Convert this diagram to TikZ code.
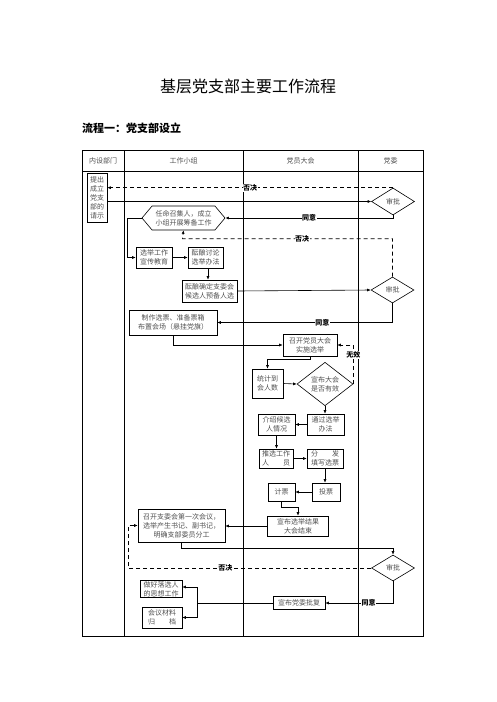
\documentclass[tikz,border=0pt]{standalone}
\usepackage{fontspec}
\setmainfont{Noto Sans CJK SC}
\usetikzlibrary{arrows.meta,positioning,shapes.geometric,shapes.symbols}
\usepackage{xcolor}
\definecolor{TextGray}{RGB}{80,80,80}
\newcommand{\boxfont}{\fontsize{7}{9}\selectfont}
\tikzset{
  flowbox/.style={draw=black,line width=0.6pt,inner sep=1pt,align=center,
    font=\boxfont,text=TextGray},
  hexbox/.style={flowbox,signal,signal to=west and east,signal pointer angle=100,
    inner sep=0pt},
  checkbox/.style={draw=black,line width=0.6pt,diamond,inner sep=0pt,align=center,
    font=\boxfont,text=TextGray},
  flowarrow/.style={-{Latex[length=3.5pt,width=3pt]},line width=0.6pt,draw=black},
  flowline/.style={line width=0.6pt,draw=black},
  dasharrow/.style={flowarrow,dash pattern=on 4pt off 3pt},
  decision/.style={font=\fontsize{7}{8}\selectfont\bfseries,fill=white,inner sep=0.6pt},
  lanehead/.style={font=\boxfont,text=TextGray},
  laneline/.style={line width=0.9pt,draw=black},
}
\begin{document}
\begin{tikzpicture}[x=1pt,y=-1pt]
  \useasboundingbox (0,0) rectangle (496,702);
  \node[font=\fontsize{16}{18}\selectfont] (title) at (248,86) {基层党支部主要工作流程};
  \node[font=\fontsize{11}{13}\selectfont\bfseries,anchor=west,inner sep=0pt] (subtitle) at (82,128) {流程一：党支部设立};

  \draw[laneline] (82,150) rectangle (423,636);
  \draw[laneline] (82,171) -- (423,171);
  \foreach \lx in {124,243,358}
    \draw[laneline] (\lx,150) -- (\lx,636);
  \node[lanehead] (deptHead) at (103,160.5) {内设部门};
  \node[lanehead] (groupHead) at (183.5,160.5) {工作小组};
  \node[lanehead] (meetingHead) at (300.5,160.5) {党员大会};
  \node[lanehead] (partyHead) at (390.5,160.5) {党委};

  \node[flowbox,minimum width=20pt,minimum height=49pt,text width=16pt] (request) at (97,197.5)
    {提出\\成立\\党支\\部的\\请示};
  \node[checkbox,minimum width=43pt,minimum height=27pt] (approveA) at (393,201.5) {审批};
  \node[hexbox,minimum width=83pt,minimum height=24pt] (setup) at (183.5,218)
    {任命召集人，成立\\小组开展筹备工作};
  \node[flowbox,minimum width=36pt,minimum height=21pt] (publicity) at (154,257.5)
    {选举工作\\宣传教育};
  \node[flowbox,minimum width=35pt,minimum height=21pt] (discuss) at (205.5,257.5)
    {酝酿讨论\\选举办法};
  \node[flowbox,minimum width=55pt,minimum height=22pt] (candidate) at (209.5,291)
    {酝酿确定支委会\\候选人预备人选};
  \node[checkbox,minimum width=43pt,minimum height=26pt] (approveB) at (392.5,290) {审批};
  \node[flowbox,minimum width=88pt,minimum height=25pt] (ballot) at (173,322.5)
    {制作选票、准备票箱\\布置会场（悬挂党旗）};
  \node[flowbox,minimum width=54pt,minimum height=22pt] (convene) at (310,345)
    {召开党员大会\\实施选举};
  \node[flowbox,minimum width=31pt,minimum height=29pt] (count) at (267.5,383.5)
    {统计到\\会人数};
  \node[checkbox,minimum width=56pt,minimum height=34pt] (valid) at (325,384)
    {宣布大会\\是否有效};
  \node[flowbox,minimum width=37pt,minimum height=21pt] (method) at (325.5,424.5)
    {通过选举\\办法};
  \node[flowbox,minimum width=37pt,minimum height=21pt] (introduce) at (276.5,424.5)
    {介绍候选\\人情况};
  \node[flowbox,minimum width=34pt,minimum height=19pt] (staff) at (276,458.5)
    {推选工作\\人　　员};
  \node[flowbox,minimum width=36pt,minimum height=19pt] (distribute) at (325,458.5)
    {分　　发\\填写选票};
  \node[flowbox,minimum width=28pt,minimum height=18pt] (vote) at (326,492) {投票};
  \node[flowbox,minimum width=27pt,minimum height=18pt] (tally) at (281.5,492) {计票};
  \node[flowbox,minimum width=61pt,minimum height=20pt] (announce) at (298,526)
    {宣布选举结果\\大会结束};
  \node[flowbox,minimum width=87pt,minimum height=33pt] (committee) at (181.5,525.5)
    {召开支委会第一次会议，\\选举产生书记、副书记，\\明确支部委员分工};
  \node[checkbox,minimum width=43pt,minimum height=26pt] (approveC) at (393,568) {审批};
  \node[flowbox,minimum width=52pt,minimum height=13pt] (reply) at (299,603) {宣布党委批复};
  \node[flowbox,minimum width=42pt,minimum height=16pt] (comfort) at (161,589)
    {做好落选人\\的思想工作};
  \node[flowbox,minimum width=40pt,minimum height=21pt] (archive) at (162,617.5)
    {会议材料\\归　　档};

  \draw[flowarrow] (request.east |- approveA.west) -- (approveA.west);
  \draw[dasharrow] (approveA.north) -- node[decision]{否决} (request.east |- approveA.north);
  \draw[flowarrow] (approveA.south) |- node[decision,pos=0.75]{同意} (setup.east);
  \draw[dasharrow] (approveB.north) -- ++(0,-38) -- node[decision,pos=0.43]{否决} ++(-210,0)
    -- (setup.south);
  \draw[flowarrow] (setup.west) -- ++(-14,0) |- (publicity.west);
  \draw[flowarrow] (publicity) -- (discuss);
  \draw[flowarrow] ([xshift=2.5pt]discuss.south) -- ([xshift=2.5pt]discuss.south |- candidate.north);
  \draw[flowarrow] (candidate.east) -- (approveB.west);
  \draw[flowarrow] (approveB.south) |- node[decision,pos=0.7]{同意} (ballot.east);
  \draw[flowarrow] (ballot.south) |- (convene.west);
  \draw[dasharrow] (valid.east) |- node[decision,pos=0.37]{无效} (convene.east);
  \draw[flowarrow] (convene.south) -- ++(0,3) -| (count.north);
  \draw[flowarrow] (count.east) -- (valid.west);
  \draw[flowarrow] (valid.south) -- (method.north -| valid.south);
  \draw[flowarrow] (method.west) -- (introduce.east);
  \draw[flowarrow] (introduce.south) -- (introduce.south |- staff.north);
  \draw[flowarrow] (staff.east) -- (distribute.west);
  \draw[flowarrow] (distribute.south) -- (distribute.south |- vote.north);
  \draw[flowarrow] (vote.west) -- (tally.east);
  \draw[flowarrow] (tally.south) -- ++(0,6) -| (announce.north);
  \draw[flowarrow] (announce.west) -- (committee.east |- announce.west);
  \draw[flowarrow] (committee.south) -- ++(0,6) -| (approveC.north);
  \draw[dasharrow] (approveC.west) -- node[decision,pos=0.6]{否决} ++(-243,0) |- (committee.west);
  \draw[flowarrow] (approveC.south) |- node[decision,pos=0.68]{同意} (reply.east);
  \draw[flowline] (reply.west) -- ++(-75,0) coordinate (fork);
  \draw[flowarrow] (fork) |- ([yshift=2pt]comfort.east);
  \draw[flowarrow] (fork) |- (archive.east);
\end{tikzpicture}
\end{document}
